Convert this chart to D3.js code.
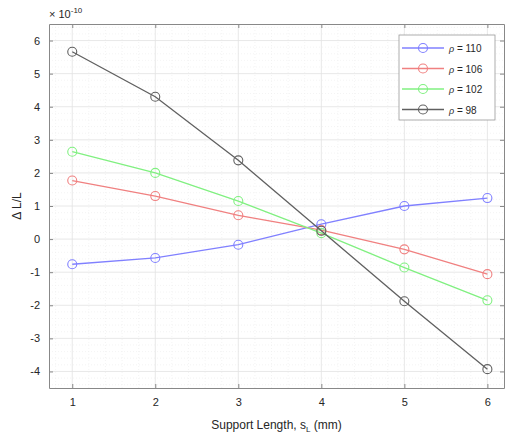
<!DOCTYPE html>
<html>
<head>
<meta charset="utf-8">
<script src="https://cdn.jsdelivr.net/npm/d3@7"></script>
<style>
  body { margin: 0; background: #fff; }
  svg { display: block; font-family: "Liberation Sans", Arial, sans-serif; }
</style>
</head>
<body>
<svg id="chart" width="510" height="444"></svg>
<script>
// Support length (mm)
const supportLength = [1, 2, 3, 4, 5, 6];

// ΔL/L in units of 1e-10 for each density
const rho110 = [-0.76, -0.57, -0.17, 0.45, 1.0, 1.24];
const rho106 = [1.77, 1.3, 0.72, 0.27, -0.31, -1.06];
const rho102 = [2.64, 2.0, 1.15, 0.18, -0.86, -1.85];
const rho98  = [5.66, 4.3, 2.38, 0.25, -1.88, -3.93];

const seriesNames = ["110", "106", "102", "98"];
const seriesColors = ["#8080ff", "#f08080", "#80f080", "#606060"];
const seriesValues = [rho110, rho106, rho102, rho98];

const xTicks = [1, 2, 3, 4, 5, 6];
const yTicks = [-4, -3, -2, -1, 0, 1, 2, 3, 4, 5, 6];

const svg = d3.select("#chart");
const plotLeft = 49, plotRight = 504, plotTop = 24, plotBottom = 388;

const x = d3.scaleLinear().domain([0.72, 6.2]).range([plotLeft, plotRight]);
const y = d3.scaleLinear().domain([-4.5, 6.5]).range([plotBottom, plotTop]);

// minor grid
const minorX = d3.range(0.8, 6.2, 0.2).filter(v => Math.abs(v - Math.round(v)) > 1e-6);
const minorY = d3.range(-4.4, 6.5, 0.2).filter(v => Math.abs(v - Math.round(v)) > 1e-6);
const grid = svg.append("g");
grid.selectAll(".mx").data(minorX).join("line")
  .attr("x1", d => x(d)).attr("x2", d => x(d)).attr("y1", plotTop).attr("y2", plotBottom)
  .attr("stroke", "#ececec").attr("stroke-width", 0.6).attr("stroke-dasharray", "1,2");
grid.selectAll(".my").data(minorY).join("line")
  .attr("x1", plotLeft).attr("x2", plotRight).attr("y1", d => y(d)).attr("y2", d => y(d))
  .attr("stroke", "#ececec").attr("stroke-width", 0.6).attr("stroke-dasharray", "1,2");
// major grid
grid.selectAll(".gx").data(xTicks).join("line")
  .attr("x1", d => x(d)).attr("x2", d => x(d)).attr("y1", plotTop).attr("y2", plotBottom)
  .attr("stroke", "#e2e2e2").attr("stroke-width", 0.8);
grid.selectAll(".gy").data(yTicks).join("line")
  .attr("x1", plotLeft).attr("x2", plotRight).attr("y1", d => y(d)).attr("y2", d => y(d))
  .attr("stroke", "#e2e2e2").attr("stroke-width", 0.8);

// axes (ticks inward)
const axisColor = "#262626";
const fmt = d => String(d);
const xAxis = svg.append("g").attr("transform", `translate(0,${plotBottom})`)
  .call(d3.axisBottom(x).tickValues(xTicks).tickFormat(fmt).tickSizeInner(-4).tickSizeOuter(0).tickPadding(10));
const yAxis = svg.append("g").attr("transform", `translate(${plotLeft},0)`)
  .call(d3.axisLeft(y).tickValues(yTicks).tickFormat(fmt).tickSizeInner(-4).tickSizeOuter(0).tickPadding(9));
const xTop = svg.append("g").attr("transform", `translate(0,${plotTop})`)
  .call(d3.axisTop(x).tickValues(xTicks).tickSizeInner(-4).tickSizeOuter(0).tickFormat(""));
const yRight = svg.append("g").attr("transform", `translate(${plotRight},0)`)
  .call(d3.axisRight(y).tickValues(yTicks).tickSizeInner(-4).tickSizeOuter(0).tickFormat(""));
[xAxis, yAxis, xTop, yRight].forEach(g => {
  g.select(".domain").attr("stroke", "#888").attr("stroke-width", 1);
  g.selectAll(".tick line").attr("stroke", "#888");
  g.selectAll(".tick text").attr("fill", axisColor).attr("font-size", 11);
});

// exponent label
const expo = svg.append("text").attr("x", 49).attr("y", 18).attr("font-size", 11).attr("fill", axisColor);
expo.append("tspan").text("\u00d7 10");
expo.append("tspan").attr("dy", -5).attr("font-size", 8).text("-10");

// axis titles
const xl = svg.append("text").attr("x", (plotLeft + plotRight) / 2).attr("y", 429)
  .attr("text-anchor", "middle").attr("font-size", 12).attr("fill", axisColor);
xl.append("tspan").text("Support Length, s");
xl.append("tspan").attr("dy", 3).attr("font-size", 8).text("L");
xl.append("tspan").attr("dy", -3).text(" (mm)");

svg.append("text").attr("transform", `translate(21,${(plotTop + plotBottom) / 2}) rotate(-90)`)
  .attr("text-anchor", "middle").attr("font-size", 12).attr("fill", axisColor)
  .text("\u0394 L/L");

// series
const line = d3.line().x((d, i) => x(supportLength[i])).y(d => y(d));
seriesValues.forEach((vals, k) => {
  const g = svg.append("g");
  g.append("path").datum(vals).attr("d", line)
    .attr("fill", "none").attr("stroke", seriesColors[k]).attr("stroke-width", 1.3);
  g.selectAll("circle").data(vals).join("circle")
    .attr("cx", (d, i) => x(supportLength[i])).attr("cy", d => y(d)).attr("r", 4.5)
    .attr("fill", "none").attr("stroke", seriesColors[k]).attr("stroke-width", 1.1);
});

// legend
const lg = svg.append("g").attr("transform", "translate(399,35)");
lg.append("rect").attr("width", 96).attr("height", 85)
  .attr("fill", "#fff").attr("stroke", "#999").attr("stroke-width", 0.8);
seriesNames.forEach((name, k) => {
  const yy = 13 + k * 20.5;
  lg.append("line").attr("x1", 3).attr("x2", 45).attr("y1", yy).attr("y2", yy)
    .attr("stroke", seriesColors[k]).attr("stroke-width", 1.3);
  lg.append("circle").attr("cx", 24).attr("cy", yy).attr("r", 4.5)
    .attr("fill", "none").attr("stroke", seriesColors[k]).attr("stroke-width", 1.1);
  const t = lg.append("text").attr("x", 50).attr("y", yy + 4).attr("font-size", 10).attr("fill", axisColor);
  t.append("tspan").attr("font-style", "italic").attr("font-size", 9).text("\u03c1");
  t.append("tspan").text(" = " + name);
});
</script>
</body>
</html>
